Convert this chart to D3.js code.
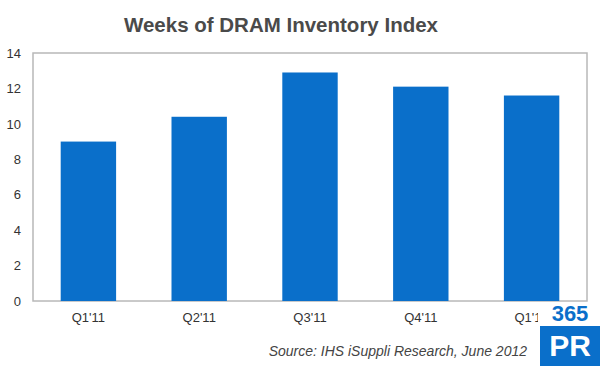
<!DOCTYPE html>
<html>
<head>
<meta charset="utf-8">
<script src="https://cdn.jsdelivr.net/npm/d3@7"></script>
<style>
  body { margin: 0; background: #fff; }
  svg { font-family: "Liberation Sans", Arial, sans-serif; }
</style>
</head>
<body>
<div id="chart"></div>
<script>
const categories = ["Q1'11", "Q2'11", "Q3'11", "Q4'11", "Q1'12"];
const weeks = [9.0, 10.4, 12.9, 12.1, 11.6];
const yTicks = [0, 2, 4, 6, 8, 10, 12, 14];

let width = 600, height = 366;
let margin = { top: 53, right: 13, bottom: 65, left: 33 };

let svg = d3.select("#chart")
    .append("svg")
    .attr("width", width)
    .attr("height", height);

// title
svg.append("text")
    .attr("x", 281)
    .attr("y", 32)
    .attr("text-anchor", "middle")
    .attr("font-size", 20.5)
    .attr("font-weight", "bold")
    .attr("fill", "#4a4a4a")
    .text("Weeks of DRAM Inventory Index");

let g = svg.append("g")
    .attr("transform", `translate(${margin.left},${margin.top})`);

let w = width - margin.left - margin.right;
let h = height - margin.top - margin.bottom;

let x = d3.scaleBand()
    .domain(categories)
    .range([0, w])
    .paddingInner(0.5)
    .paddingOuter(0.25);

let y = d3.scaleLinear()
    .domain([0, 14])
    .range([h, 0]);

// plot frame
g.append("rect")
    .attr("width", w)
    .attr("height", h)
    .attr("fill", "none")
    .attr("stroke", "#b8b8b8")
    .attr("stroke-width", 1.5);

// bars
g.selectAll(".bar")
    .data(weeks)
    .enter()
    .append("rect")
    .attr("class", "bar")
    .attr("x", (d, i) => x(categories[i]))
    .attr("y", d => y(d))
    .attr("width", x.bandwidth())
    .attr("height", d => h - y(d))
    .attr("fill", "#0a6fca");

// y axis labels
let yAxis = g.append("g")
    .call(d3.axisLeft(y).tickValues(yTicks).tickSize(0).tickPadding(12));
yAxis.select(".domain").remove();
yAxis.selectAll("text")
    .attr("font-size", 13)
    .attr("fill", "#333")
    .style("font-family", "Liberation Sans, Arial, sans-serif");

// x axis labels
let xAxis = g.append("g")
    .attr("transform", `translate(0,${h})`)
    .call(d3.axisBottom(x).tickSize(0).tickPadding(12));
xAxis.select(".domain").remove();
xAxis.selectAll("text")
    .attr("font-size", 13)
    .attr("fill", "#333")
    .style("font-family", "Liberation Sans, Arial, sans-serif");

// source
svg.append("text")
    .attr("x", 527)
    .attr("y", 356)
    .attr("text-anchor", "end")
    .attr("font-size", 14)
    .attr("font-style", "italic")
    .attr("fill", "#444")
    .text("Source: IHS iSuppli Research, June 2012");

// 365PR watermark
let logo = svg.append("g");
logo.append("rect")
    .attr("x", 538).attr("y", 303).attr("width", 62).attr("height", 22)
    .attr("fill", "#fff");
logo.append("text")
    .attr("x", 570).attr("y", 321)
    .attr("text-anchor", "middle")
    .attr("font-size", 22)
    .attr("font-weight", "bold")
    .attr("fill", "#0a6fca")
    .text("365");
logo.append("rect")
    .attr("x", 540).attr("y", 326).attr("width", 60).attr("height", 40)
    .attr("fill", "#0a6fca");
logo.append("text")
    .attr("x", 570).attr("y", 356)
    .attr("text-anchor", "middle")
    .attr("font-size", 30)
    .attr("font-weight", "bold")
    .attr("fill", "#fff")
    .text("PR");
</script>
</body>
</html>
